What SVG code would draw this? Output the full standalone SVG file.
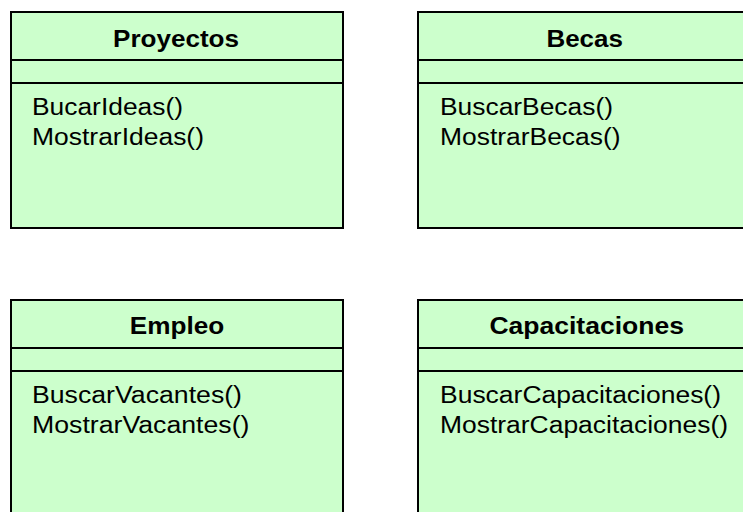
<svg xmlns="http://www.w3.org/2000/svg" width="743" height="512" viewBox="0 0 743 512">
<style>
.box{fill:#CCFFCC;stroke:#000;stroke-width:2}
.sep{stroke:#000;stroke-width:2}
.title{font-family:"Liberation Sans",Arial,sans-serif;font-weight:bold;font-size:24.7px;fill:#000;text-anchor:middle}
.m{font-family:"Liberation Sans",Arial,sans-serif;font-size:24.7px;fill:#000}
</style>
<rect width="743" height="512" fill="#fff"/>
<g id="proyectos">
<rect class="box" x="11" y="12" width="332" height="216"/>
<line class="sep" x1="11" y1="60" x2="343" y2="60"/>
<line class="sep" x1="11" y1="83" x2="343" y2="83"/>
<text class="title" x="176" y="46.5" textLength="126" lengthAdjust="spacingAndGlyphs">Proyectos</text>
<text class="m" x="32" y="115" textLength="151" lengthAdjust="spacingAndGlyphs">BucarIdeas()</text>
<text class="m" x="32" y="145" textLength="172" lengthAdjust="spacingAndGlyphs">MostrarIdeas()</text>
</g>
<g id="becas">
<rect class="box" x="418" y="12" width="336" height="216"/>
<line class="sep" x1="418" y1="60" x2="754" y2="60"/>
<line class="sep" x1="418" y1="83" x2="754" y2="83"/>
<text class="title" x="584.7" y="46.5" textLength="76.5" lengthAdjust="spacingAndGlyphs">Becas</text>
<text class="m" x="440" y="115" textLength="173" lengthAdjust="spacingAndGlyphs">BuscarBecas()</text>
<text class="m" x="440" y="145" textLength="180.6" lengthAdjust="spacingAndGlyphs">MostrarBecas()</text>
</g>
<g id="empleo">
<rect class="box" x="11" y="300" width="332" height="230"/>
<line class="sep" x1="11" y1="348" x2="343" y2="348"/>
<line class="sep" x1="11" y1="371" x2="343" y2="371"/>
<text class="title" x="177" y="333.5" textLength="94.5" lengthAdjust="spacingAndGlyphs">Empleo</text>
<text class="m" x="32" y="403" textLength="210" lengthAdjust="spacingAndGlyphs">BuscarVacantes()</text>
<text class="m" x="32" y="433" textLength="217.4" lengthAdjust="spacingAndGlyphs">MostrarVacantes()</text>
</g>
<g id="capacitaciones">
<rect class="box" x="418" y="300" width="336" height="230"/>
<line class="sep" x1="418" y1="348" x2="754" y2="348"/>
<line class="sep" x1="418" y1="371" x2="754" y2="371"/>
<text class="title" x="586.7" y="333.5" textLength="194.5" lengthAdjust="spacingAndGlyphs">Capacitaciones</text>
<text class="m" x="440" y="403" textLength="281" lengthAdjust="spacingAndGlyphs">BuscarCapacitaciones()</text>
<text class="m" x="440" y="433" textLength="288" lengthAdjust="spacingAndGlyphs">MostrarCapacitaciones()</text>
</g>
<g id="connectors"></g>
</svg>
